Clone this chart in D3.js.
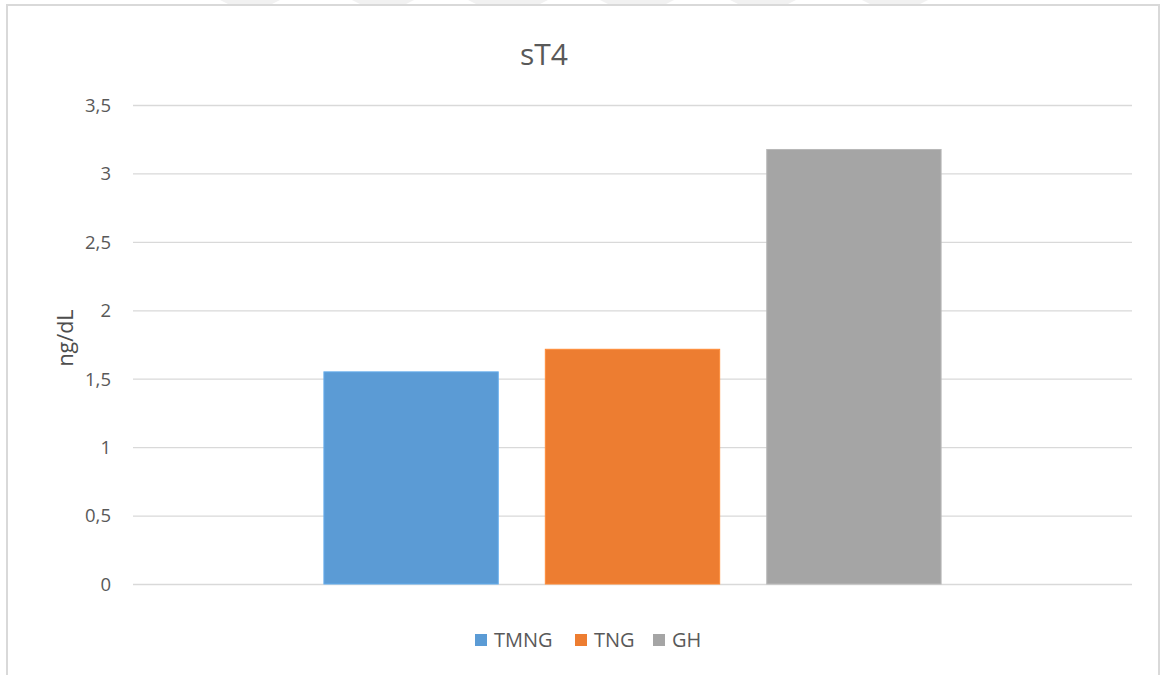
<!DOCTYPE html>
<html>
<head>
<meta charset="utf-8">
<script src="https://cdn.jsdelivr.net/npm/d3@7"></script>
<style>
  html, body { margin: 0; padding: 0; background: #fff; }
  svg { display: block; }
  text { font-family: "Open Sans", "Noto Sans", sans-serif; }
</style>
</head>
<body>
<svg id="chart" width="1161" height="675"></svg>
<script>
// sT4 means per group (ng/dL)
const categories = ["sT4"];
const seriesNames = ["TMNG", "TNG", "GH"];
const seriesValues = [1.55, 1.715, 3.175];
const seriesColors = ["#5B9BD5", "#ED7D31", "#A5A5A5"];
const yTicks = [0, 0.5, 1, 1.5, 2, 2.5, 3, 3.5];
const yTitle = "ng/dL";
const chartTitle = "sT4";

const W = 1161, H = 675;
const svg = d3.select("#chart");

// faint header strip above the chart frame
const strip = svg.append("g");
[[220, 60], [352, 62], [468, 80], [600, 74], [730, 66], [862, 66]].forEach(([x, w]) => {
  strip.append("path")
    .attr("d", `M${x},0 L${x + w},0 L${x + w - 10},5 L${x + 10},5 Z`)
    .attr("fill", "#f1f1f1");
});

// chart frame
svg.append("path")
  .attr("d", "M7,680 L7,5 L1159,5 L1159,680")
  .attr("fill", "#fff")
  .attr("stroke", "#d9d9d9")
  .attr("stroke-width", 2);

const plot = { left: 133, right: 1132, top: 105, bottom: 584 };

const y = d3.scaleLinear().domain([0, 3.5]).range([plot.bottom, plot.top]);

// category band fills the plot width; series sit inside with Excel-like gap/overlap
const x0 = d3.scaleBand().domain(categories).range([plot.left, plot.right]).padding(0);
const gapWidth = 2.19, overlap = -0.27;
const barW = x0.bandwidth() / (seriesNames.length + gapWidth - overlap * (seriesNames.length - 1));
const innerPad = -overlap / (1 - overlap);
const step = barW * (1 - overlap);
const outerPad = ((x0.bandwidth() / step) - (seriesNames.length - innerPad)) / 2;
const x1 = d3.scaleBand().domain(seriesNames)
  .range([0, x0.bandwidth()])
  .paddingInner(innerPad)
  .paddingOuter(outerPad);

// gridlines and tick labels
const yAxis = d3.axisLeft(y)
  .tickValues(yTicks)
  .tickSize(-(plot.right - plot.left))
  .tickPadding(22)
  .tickFormat(d => String(d).replace(".", ","));

const gy = svg.append("g")
  .attr("transform", `translate(${plot.left},0)`)
  .call(yAxis);
gy.select(".domain").remove();
gy.selectAll(".tick line").attr("stroke", "#d9d9d9").attr("stroke-width", 1.3);
gy.selectAll(".tick text")
  .attr("fill", "#595959")
  .attr("font-size", 18.5)
  .attr("dy", "0.34em");

// bars
svg.append("g")
  .selectAll("rect")
  .data(seriesNames.map((s, i) => ({ cat: categories[0], s, v: seriesValues[i], c: seriesColors[i] })))
  .join("rect")
  .attr("x", d => x0(d.cat) + x1(d.s))
  .attr("y", d => y(d.v))
  .attr("width", x1.bandwidth())
  .attr("height", d => y(0) - y(d.v))
  .attr("fill", d => d.c)
  .attr("stroke", d => d3.color(d.c).brighter(0.3))
  .attr("stroke-width", 1);

// title
svg.append("text")
  .attr("x", 544)
  .attr("y", 65)
  .attr("text-anchor", "middle")
  .attr("font-size", 30)
  .attr("fill", "#595959")
  .text(chartTitle);

// y axis title
svg.append("text")
  .attr("transform", "translate(73,338) rotate(-90)")
  .attr("text-anchor", "middle")
  .attr("font-size", 21.5)
  .attr("font-weight", 500)
  .attr("fill", "#4d4d4d")
  .text(yTitle);

// legend
const legendX = [475, 575, 653];
const lg = svg.append("g");
seriesNames.forEach((s, i) => {
  lg.append("rect")
    .attr("x", legendX[i]).attr("y", 634)
    .attr("width", 12).attr("height", 12)
    .attr("fill", seriesColors[i]);
  lg.append("text")
    .attr("x", legendX[i] + 19).attr("y", 647)
    .attr("font-size", 20)
    .attr("fill", "#595959")
    .text(s);
});
</script>
</body>
</html>
